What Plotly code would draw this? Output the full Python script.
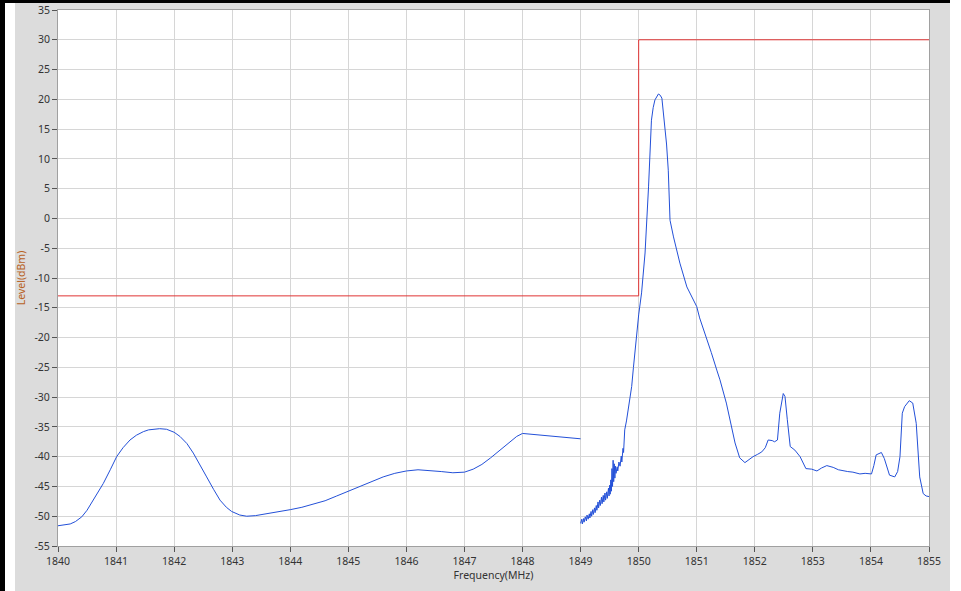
import plotly.graph_objects as go

# spectrum trace (MHz, dBm); None breaks the line between the two sweeps
freq = [
    1840.00, 1840.10, 1840.21, 1840.30, 1840.41, 1840.50, 1840.61, 1840.70, 1840.78, 1840.90,
    1841.01, 1841.12, 1841.24, 1841.35, 1841.47, 1841.56, 1841.64, 1841.75, 1841.87, 1842.00,
    1842.10, 1842.22, 1842.33, 1842.45, 1842.56, 1842.68, 1842.79, 1842.90, 1842.99, 1843.13,
    1843.25, 1843.40, 1843.60, 1843.80, 1844.00, 1844.20, 1844.40, 1844.60, 1844.80, 1845.00,
    1845.20, 1845.40, 1845.60, 1845.80, 1846.00, 1846.20, 1846.40, 1846.60, 1846.80, 1847.00,
    1847.15, 1847.30, 1847.45, 1847.60, 1847.75, 1847.90, 1848.00, 1848.20, 1848.40, 1848.60,
    1848.80, 1849.00,
    None,
    1849.00, 1849.02, 1849.03, 1849.05, 1849.06, 1849.08, 1849.10, 1849.11, 1849.13, 1849.15,
    1849.16, 1849.18, 1849.19, 1849.21, 1849.22, 1849.24, 1849.25, 1849.27, 1849.28, 1849.30,
    1849.31, 1849.33, 1849.34, 1849.36, 1849.37, 1849.39, 1849.40, 1849.42, 1849.43, 1849.45,
    1849.46, 1849.48, 1849.49, 1849.50, 1849.51, 1849.52, 1849.53, 1849.54, 1849.55, 1849.56,
    1849.57, 1849.58, 1849.59, 1849.60, 1849.61, 1849.63, 1849.64, 1849.66, 1849.68, 1849.70,
    1849.71, 1849.73, 1849.74, 1849.76, 1849.79, 1849.82, 1849.85, 1849.88, 1849.91, 1849.94,
    1849.97, 1850.00, 1850.05, 1850.11,
    1850.17, 1850.19, 1850.22, 1850.25, 1850.28, 1850.34, 1850.37, 1850.40, 1850.45, 1850.48,
    1850.51, 1850.54, 1850.60, 1850.71, 1850.83, 1851.00, 1851.05, 1851.15, 1851.25, 1851.35,
    1851.40, 1851.51, 1851.58, 1851.66, 1851.74, 1851.83, 1851.90, 1851.97, 1852.05, 1852.12,
    1852.18, 1852.23, 1852.30, 1852.34, 1852.39, 1852.43, 1852.49, 1852.52, 1852.56, 1852.61,
    1852.69, 1852.78, 1852.88, 1852.98, 1853.07, 1853.15, 1853.24, 1853.35, 1853.44, 1853.52,
    1853.60, 1853.69, 1853.81, 1853.90, 1854.01, 1854.05, 1854.09, 1854.18, 1854.23, 1854.32,
    1854.41, 1854.46, 1854.50, 1854.54, 1854.58, 1854.66, 1854.72, 1854.78, 1854.84, 1854.90,
    1854.95, 1855.00,
]
level = [
    -51.6, -51.5, -51.3, -50.9, -50.1, -49.0, -47.3, -45.9, -44.5, -42.2,
    -40.0, -38.5, -37.2, -36.4, -35.8, -35.5, -35.4, -35.3, -35.4, -35.9,
    -36.6, -37.8, -39.4, -41.4, -43.4, -45.5, -47.3, -48.5, -49.2, -49.8,
    -50.0, -49.9, -49.6, -49.3, -48.9, -48.5, -48.0, -47.4, -46.6, -45.8,
    -45.0, -44.2, -43.4, -42.8, -42.4, -42.2, -42.3, -42.5, -42.7, -42.6,
    -42.1, -41.3, -40.2, -39.0, -37.7, -36.6, -36.1, -36.3, -36.5, -36.7,
    -36.8, -37.0,
    None,
    -51.2, -50.5, -51.3, -50.4, -51.0, -50.1, -50.8, -49.8, -50.5, -49.6,
    -50.3, -49.2, -50.0, -48.9, -49.7, -48.6, -49.4, -48.2, -49.0, -47.6,
    -48.6, -47.3, -48.2, -46.8, -47.9, -46.5, -47.6, -46.1, -47.3, -45.9,
    -47.0, -45.3, -46.6, -44.8, -46.3, -43.9, -45.8, -42.0, -45.0, -40.6,
    -44.2, -41.2, -43.6, -41.6, -42.8, -41.7, -42.4, -40.9, -41.6, -39.9,
    -40.9, -38.6, -39.3, -35.5, -34.0, -32.2, -30.1, -28.2, -25.0, -22.0,
    -19.0, -16.2, -12.5, -5.8,
    5.3, 11.0, 16.5, 18.6, 19.9, 20.9, 20.7, 20.2, 16.0, 12.5,
    8.1, -0.3, -3.1, -7.5, -11.5, -14.8, -16.7, -19.5, -22.5, -25.6,
    -27.1, -31.0, -34.0, -37.7, -40.2, -41.0, -40.5, -40.0, -39.6, -39.2,
    -38.5, -37.2, -37.3, -37.5, -37.2, -32.7, -29.4, -29.9, -33.8, -38.3,
    -38.9, -40.0, -42.0, -42.1, -42.4, -41.9, -41.5, -41.8, -42.2, -42.4,
    -42.5, -42.6, -42.9, -42.8, -42.9, -41.5, -39.7, -39.3, -40.3, -43.1,
    -43.4, -42.5, -40.0, -32.7, -31.6, -30.6, -31.0, -34.4, -43.4, -46.2,
    -46.6, -46.7,
]

# emission limit mask
mask_freq = [1840, 1850, 1850, 1855]
mask_level = [-13, -13, 30, 30]

x_ticks = list(range(1840, 1856))
y_ticks = list(range(-55, 36, 5))
y_labels = [str(v) for v in y_ticks]  # plain hyphen minus like the original

W, H = 961, 591
L, R, T, B = 58, 929, 10, 546

fig = go.Figure()
fig.add_trace(go.Scatter(x=mask_freq, y=mask_level, mode="lines",
                         line=dict(color="#e03434", width=1), showlegend=False))
fig.add_trace(go.Scatter(x=freq, y=level, mode="lines", connectgaps=False,
                         line=dict(color="#2350d8", width=1), showlegend=False))

axis_common = dict(
    showgrid=True, gridcolor="#d6d6d6", gridwidth=1,
    showline=True, linecolor="#a0a0a0", linewidth=1, mirror=True,
    ticks="outside", ticklen=5, tickcolor="#555555",
    zeroline=False, automargin=False,
    tickfont=dict(family="Noto Sans", size=10.5, color="#333333"),
)

fig.update_xaxes(range=[1840, 1855], tickvals=x_ticks,
                 title=dict(text="Frequency(MHz)", standoff=4,
                            font=dict(family="Noto Sans", size=10.5, color="#333333")),
                 **axis_common)
fig.update_yaxes(range=[-55, 35], tickvals=y_ticks, ticktext=y_labels,
                 title=dict(text="Level(dBm)", standoff=6,
                            font=dict(family="Noto Sans", size=10.5, color="#b8621e")),
                 **axis_common)

fig.update_layout(
    width=W, height=H,
    margin=dict(l=L, r=W - R, t=T, b=H - B),
    paper_bgcolor="#dcdcdc", plot_bgcolor="white",
    showlegend=False,
)

# window frame around the grey panel (left/top black edge, white gaps)
frame_js = """
document.body.style.margin = '0';
[[5, 3, 10, 600, 'white'], [950, 0, 20, 600, 'white'],
 [0, 0, 5, 600, 'black'], [0, 0, 950, 3, 'black']].forEach(function (r) {
    var d = document.createElement('div');
    d.style.cssText = 'position:absolute;z-index:10;left:' + r[0] + 'px;top:' + r[1] +
        'px;width:' + r[2] + 'px;height:' + r[3] + 'px;background:' + r[4] + ';';
    document.body.appendChild(d);
});
"""

fig.write_html("out.html", config={"displayModeBar": False}, post_script=frame_js)
